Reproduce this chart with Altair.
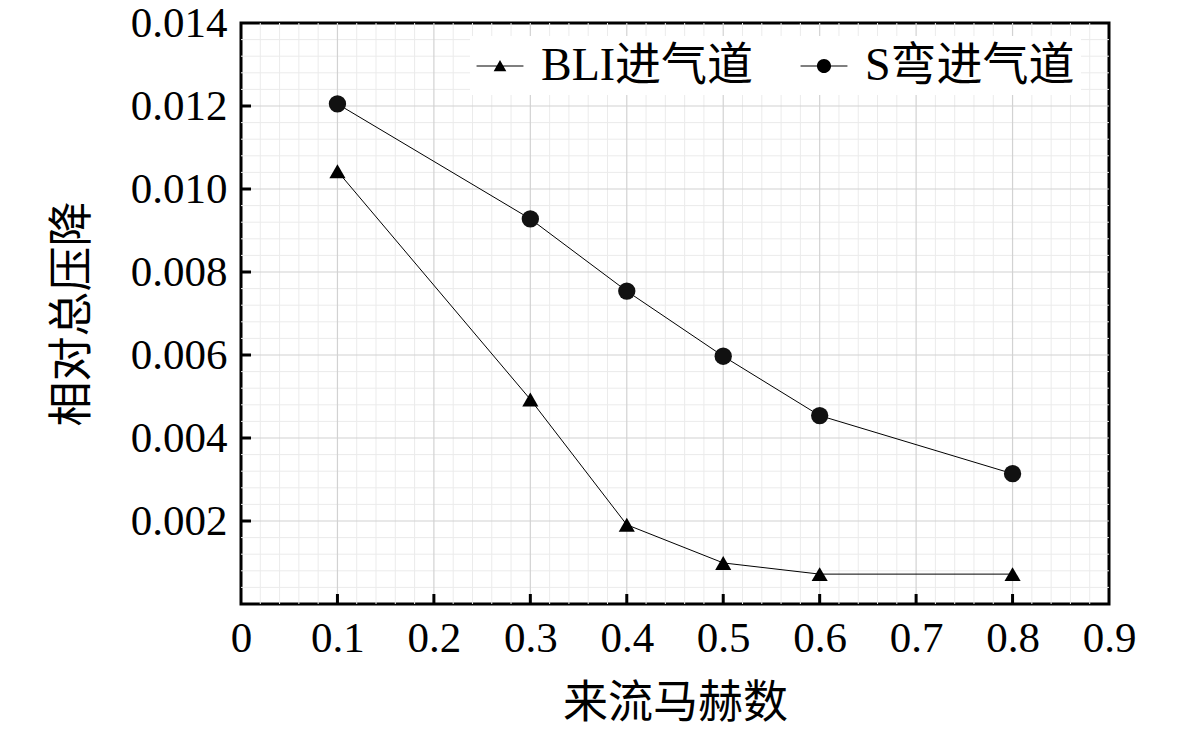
import altair as alt
import pandas as pd
import numpy as np

# ---- data ----
mach = [0.1, 0.3, 0.4, 0.5, 0.6, 0.8]
bli = [0.01043, 0.00493, 0.00191, 0.00099, 0.00072, 0.00072]
sduct = [0.01205, 0.00928, 0.00754, 0.00597, 0.00454, 0.00314]
series_names = ["BLI进气道", "S弯进气道"]

x_ticks = [0, 0.1, 0.2, 0.3, 0.4, 0.5, 0.6, 0.7, 0.8, 0.9]
y_ticks = [0.002, 0.004, 0.006, 0.008, 0.010, 0.012, 0.014]

W, H = 868, 581
FONT = "'Liberation Serif', 'Noto Sans CJK SC'"

df = pd.DataFrame({
    "x": mach * 2,
    "y": bli + sduct,
    "s": [series_names[0]] * len(mach) + [series_names[1]] * len(mach),
})

xs = alt.Scale(domain=[0, 0.9], nice=False, zero=False)
ys = alt.Scale(domain=[0, 0.014], nice=False, zero=False)

# grid helpers
xminor = [round(v, 2) for v in np.arange(0, 0.9001, 0.02) if abs(v * 10 - round(v * 10)) > 1e-6]
yminor = [round(v, 5) for v in np.arange(0, 0.01401, 0.0004) if abs(v / 0.002 - round(v / 0.002)) > 1e-6]
xmajor = [0.1, 0.2, 0.3, 0.4, 0.5, 0.6, 0.7, 0.8]
ymajor = [0.002, 0.004, 0.006, 0.008, 0.010, 0.012]

gx_minor = alt.Chart(pd.DataFrame({"x": xminor})).mark_rule(color="#ebebeb", strokeWidth=1).encode(
    x=alt.X("x:Q", scale=xs))
gy_minor = alt.Chart(pd.DataFrame({"y": yminor})).mark_rule(color="#ebebeb", strokeWidth=1).encode(
    y=alt.Y("y:Q", scale=ys))
gx_major = alt.Chart(pd.DataFrame({"x": xmajor})).mark_rule(color="#d2d2d2", strokeWidth=1.2).encode(
    x=alt.X("x:Q", scale=xs))
gy_major = alt.Chart(pd.DataFrame({"y": ymajor})).mark_rule(color="#d2d2d2", strokeWidth=1.2).encode(
    y=alt.Y("y:Q", scale=ys))

# inward ticks
tx = alt.Chart(pd.DataFrame({"x": xmajor})).mark_rule(color="black", strokeWidth=3).encode(
    x=alt.X("x:Q", scale=xs), y=alt.value(H), y2=alt.value(H - 10))
ty = alt.Chart(pd.DataFrame({"y": ymajor})).mark_rule(color="black", strokeWidth=3).encode(
    y=alt.Y("y:Q", scale=ys), x=alt.value(0), x2=alt.value(10))

base_axes = alt.Chart(df).mark_point(opacity=0).encode(
    x=alt.X("x:Q", scale=xs, title="来流马赫数",
            axis=alt.Axis(values=x_ticks, format="~g", grid=False, domain=False, ticks=False,
                          labelFlush=False, labelPadding=13, titleX=W / 2, titleY=99,
                          titleBaseline="middle")),
    y=alt.Y("y:Q", scale=ys, title="相对总压降",
            axis=alt.Axis(values=y_ticks, format=".3f", grid=False, domain=False, ticks=False,
                          labelFlush=False, labelPadding=14, titleX=-169, titleY=H / 2,
                          titleBaseline="middle")),
)

lines = alt.Chart(df).mark_line(color="black", strokeWidth=1).encode(
    x=alt.X("x:Q", scale=xs), y=alt.Y("y:Q", scale=ys), detail="s:N")

pts_bli = alt.Chart(df).transform_filter(alt.datum.s == series_names[0]).mark_point(
    shape="triangle-up", filled=True, color="black", size=260, opacity=1).encode(
    x=alt.X("x:Q", scale=xs), y=alt.Y("y:Q", scale=ys))
pts_s = alt.Chart(df).transform_filter(alt.datum.s == series_names[1]).mark_point(
    shape="circle", filled=True, color="#111111", size=300, opacity=1).encode(
    x=alt.X("x:Q", scale=xs), y=alt.Y("y:Q", scale=ys))

# legend symbols: thin bar (line) + marker, all filled
tri_path = "M-1,-0.022H1V0.022H-1ZM-0.27,0.22L0,-0.26L0.27,0.22Z"
cir_path = "M-1,-0.022H1V0.022H-1ZM0.3,0A0.3,0.3 0 1,1 -0.3,0A0.3,0.3 0 1,1 0.3,0Z"

legend_layer = alt.Chart(df).transform_filter("datum.x < 0").mark_point(
    filled=True, fill="black", stroke="black", strokeWidth=0.5, opacity=1).encode(
    x=alt.X("x:Q", scale=xs), y=alt.Y("y:Q", scale=ys),
    shape=alt.Shape("s:N", scale=alt.Scale(domain=series_names, range=[tri_path, cir_path]),
                    legend=alt.Legend(title=None, orient="none", legendX=229, legendY=13,
                                      direction="horizontal", symbolSize=2200,
                                      symbolFillColor="black", symbolStrokeColor="black",
                                      symbolStrokeWidth=0.5, labelFont=FONT, labelFontSize=46,
                                      labelColor="black", labelOffset=17, columnPadding=45,
                                      labelLimit=500, fillColor="white", padding=6)))

chart = alt.layer(gx_minor, gy_minor, gx_major, gy_major, base_axes, lines, pts_bli, pts_s,
                  tx, ty, legend_layer).properties(
    width=W, height=H,
    background="white",
    autosize=alt.AutoSizeParams(type="none"),
    padding={"left": 233, "top": 15, "right": 56, "bottom": 124},
).configure_view(stroke="black", strokeWidth=3).configure_axis(
    labelFont=FONT, labelFontSize=43, labelColor="black",
    titleFont=FONT, titleFontSize=45, titleColor="black", titleFontWeight="normal",
)

chart.save("out.html", embed_options={"renderer": "svg", "actions": False})
